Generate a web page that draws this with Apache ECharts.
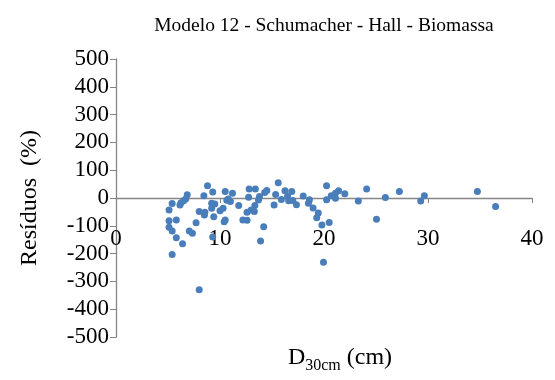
<!DOCTYPE html>
<html><head><meta charset="utf-8">
<script src="https://cdn.jsdelivr.net/npm/echarts@6/dist/echarts.min.js"></script>
<style>html,body{margin:0;padding:0;background:#fff}#c{width:555px;height:380px}</style>
</head><body><div id="c"></div>
<script>
const diameters = [5.1,5.1,5.1,5.4,5.4,5.4,5.8,5.8,6.15,6.25,6.4,6.5,6.7,6.85,7.05,7.35,7.7,8.0,8.0,8.45,8.55,8.5,8.8,9.2,9.3,9.4,9.3,9.5,9.2,10.0,10.3,10.4,10.5,10.5,10.65,10.8,11.0,11.2,11.8,12.2,12.6,12.8,13.4,12.75,13.0,12.6,13.3,13.7,13.35,14.2,13.9,14.3,14.5,15.2,15.35,15.6,15.9,16.25,16.5,16.6,16.9,17.0,17.35,18.0,18.6,18.5,18.95,19.45,19.3,19.8,19.95,20.25,20.25,20.5,20.7,21.1,21.1,21.4,22.0,23.3,24.1,25.05,25.9,27.25,29.3,29.65,34.75,36.5,13.8];
const residuals = [-43,-82,-105,-20,-119,-203,-79,-143,-25,-17,-165,-10,-4,12,-119,-127,-89,-330,-49,8,-51,-61,44,-19,22,-67,-140,-22,-37,-46,-37,-85,-79,23,-8,-4,-13,17,-27,-79,-80,32,32,3,-43,-51,-49,-7,-27,-103,-155,20,27,-25,13,55,-5,26,6,-10,23,-9,-24,7,-6,-19,-36,-54,-71,-97,-231,44,-6,-88,8,17,-1,26,15,-11,32,-76,2,23,-11,8,23,-31,5];
const xTicks = {min:0, max:40, interval:10};
const yTicks = {min:-500, max:500, interval:100};
const chartTitle = 'Modelo 12 - Schumacher - Hall - Biomassa';
const yTitle = 'Resíduos  (%)';

const chart = echarts.init(document.getElementById('c'), null, {renderer:'canvas'});
const pts = diameters.map((d,i)=>[d, residuals[i]]);
const font = 'Liberation Serif';
const axisColor = '#868686';
const gridTop = 59, gridBottom = 43, H = 380;
const plotH = H - gridTop - gridBottom;
const zeroFromBottom = plotH * (0 - yTicks.min) / (yTicks.max - yTicks.min);
chart.setOption({
  animation:false,
  title:[
    {text:chartTitle, left:319, top:11, textAlign:'center',
     textStyle:{fontFamily:font,fontSize:19.5,fontWeight:'normal',color:'#000'}},
    {text:'{d|D}{s|30cm}{d| (cm)}', left:335, top:337, textAlign:'center',
     textStyle:{fontWeight:'normal',rich:{
       d:{fontFamily:font,fontSize:24,fontWeight:'normal',color:'#000',verticalAlign:'middle',lineHeight:32},
       s:{fontFamily:font,fontSize:16,fontWeight:'normal',color:'#000',verticalAlign:'bottom',lineHeight:16}}}}
  ],
  grid:{left:116,right:23,top:gridTop,bottom:gridBottom,containLabel:false},
  xAxis:[
    {type:'value',min:xTicks.min,max:xTicks.max,interval:xTicks.interval,
     axisLine:{onZero:true,lineStyle:{color:axisColor,width:1.3}},
     axisTick:{show:true,length:5,lineStyle:{color:axisColor}},
     splitLine:{show:false},axisLabel:{show:false}},
    {type:'value',min:xTicks.min,max:xTicks.max,interval:xTicks.interval,position:'bottom',
     offset:-zeroFromBottom,
     axisLine:{show:false,onZero:false},axisTick:{show:false},splitLine:{show:false},
     axisLabel:{fontFamily:font,fontSize:23,color:'#000',margin:29}}
  ],
  yAxis:{type:'value',min:yTicks.min,max:yTicks.max,interval:yTicks.interval,
    name:yTitle,nameLocation:'middle',nameRotate:90,nameGap:74,
    nameTextStyle:{fontFamily:font,fontSize:24,color:'#000'},
    axisLine:{show:true,lineStyle:{color:axisColor,width:1.3}},
    axisTick:{show:true,length:6,lineStyle:{color:axisColor}},
    splitLine:{show:false},
    axisLabel:{fontFamily:font,fontSize:23,color:'#000',margin:7}},
  series:[{type:'scatter',xAxisIndex:0,data:pts,symbolSize:7,itemStyle:{color:'#4A7EBB',opacity:1}}]
});
</script></body></html>
